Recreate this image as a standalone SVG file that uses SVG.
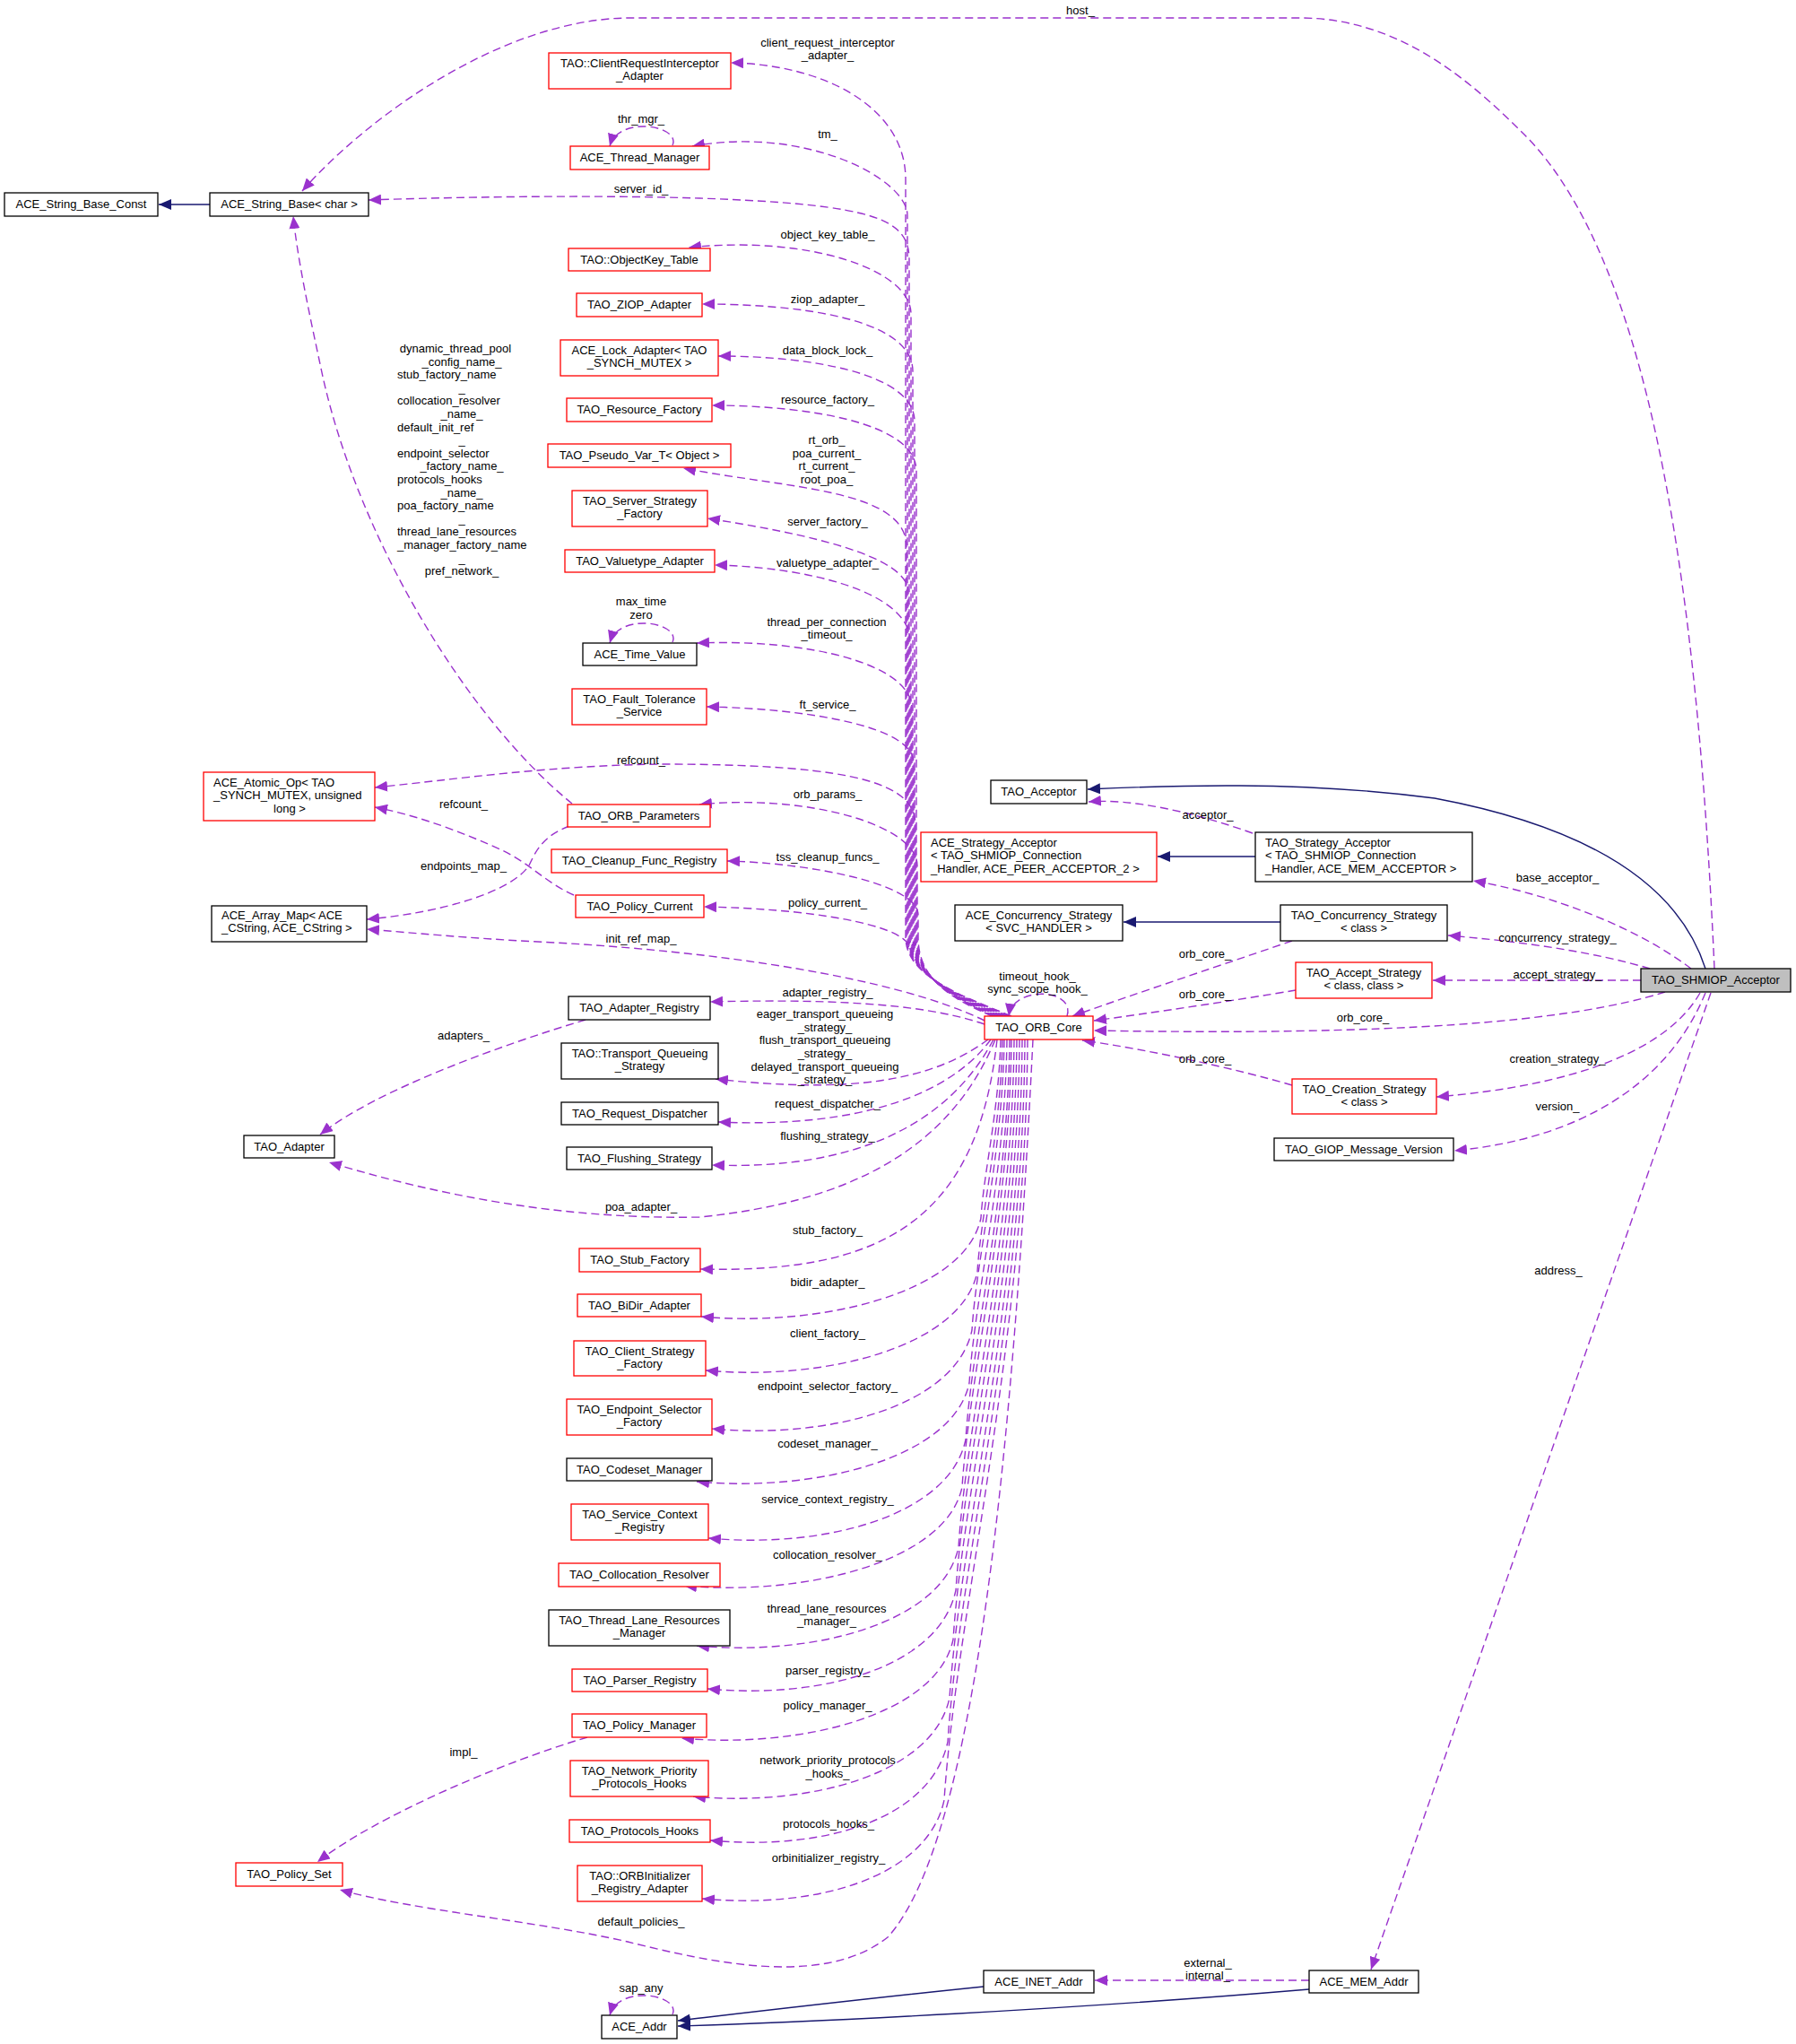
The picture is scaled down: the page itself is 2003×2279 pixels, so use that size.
<svg xmlns="http://www.w3.org/2000/svg" width="2003" height="2279" viewBox="0 0 2003 2279">
<style>
text{font-family:"Liberation Sans",Arial,Helvetica,sans-serif;font-size:13px;fill:#000}
.c{text-anchor:middle}
.s{text-anchor:start}
.nb rect{fill:#fff;stroke:#000;stroke-width:1.3}
.nr rect{fill:#fff;stroke:#f00;stroke-width:1.3}
.ng rect{fill:#bfbfbf;stroke:#000;stroke-width:1.3}
.u{fill:none;stroke:#9a32cd;stroke-width:1.4;stroke-dasharray:9,5;marker-end:url(#ap)}
.i{fill:none;stroke:#191970;stroke-width:1.4;marker-end:url(#an)}
</style>
<defs>
<marker id="ap" viewBox="0 0 14 12" refX="14" refY="6" markerWidth="14" markerHeight="12" markerUnits="userSpaceOnUse" orient="auto"><path d="M0,0L14,6L0,12z" fill="#9a32cd"/></marker>
<marker id="an" viewBox="0 0 14 12" refX="14" refY="6" markerWidth="14" markerHeight="12" markerUnits="userSpaceOnUse" orient="auto"><path d="M0,0L14,6L0,12z" fill="#191970"/></marker>
</defs>
<rect width="2003" height="2279" fill="#fff"/>
<g id="edges">
<path class="i" d="M234,228 L177,228"/>
<path class="u" d="M1912,1080 C1895,700 1850,300 1700,150 C1640,90 1560,20 1450,20 L700,20 C560,22 410,130 337,213"/>
<path class="u" d="M1128,1133 C1078,1112 1010,1090 1010,1045 L1010,200 C1010,120 920,72 815,70"/>
<path class="u" d="M1125,1133 C1075,1112 1012,1090 1012,1045 L1012,240 C1012,200 900,140 772,163"/>
<path class="u" d="M750,162 C760,140 690,128 680,163"/>
<path class="u" d="M1122,1133 C1072,1112 1014,1090 1014,1045 L1014,290 C1014,245 980,228 780,221 C650,217 500,220 411,223"/>
<path class="u" d="M1119,1133 C1069,1112 1016,1090 1016,1045 L1016,350 C1016,300 900,262 768,276"/>
<path class="u" d="M1116,1133 C1066,1112 1018,1090 1018,1045 L1018,414 C1018,354 887,339 783,339"/>
<path class="u" d="M1113,1133 C1063,1112 1020,1090 1020,1045 L1020,470 C1020,415 900,397 801,397"/>
<path class="u" d="M1110,1133 C1060,1112 1022,1090 1022,1045 L1022,525 C1022,470 895,452 794,452"/>
<path class="u" d="M1127,1133 C1077,1112 1011,1090 1011,1045 L1011,610 C1011,545 880,545 762,522"/>
<path class="u" d="M1124,1133 C1074,1112 1013,1090 1013,1045 L1013,660 C1013,620 900,595 789,578"/>
<path class="u" d="M1121,1133 C1071,1112 1015,1090 1015,1045 L1015,715 C1015,660 900,632 797,630"/>
<path class="u" d="M750,716 C760,694 690,682 680,717"/>
<path class="u" d="M1118,1133 C1068,1112 1017,1090 1017,1045 L1017,790 C1017,740 900,712 777,717"/>
<path class="u" d="M1115,1133 C1065,1112 1019,1090 1019,1045 L1019,850 C1019,810 900,790 788,788"/>
<path class="u" d="M1112,1133 C1062,1112 1021,1090 1021,1045 L1021,920 C1021,875 960,853 750,852 C620,852 500,870 418,878"/>
<path class="u" d="M1109,1133 C1059,1112 1023,1090 1023,1045 L1023,965 C1023,920 900,885 780,897"/>
<path class="u" d="M1107,1133 C1057,1112 1024,1090 1024,1045 L1024,1020 C1024,985 900,962 811,960"/>
<path class="u" d="M1106,1133 C1060,1110 1020,1080 1014,1055 C1005,1030 900,1013 785,1011"/>
<path class="u" d="M1098,1138 C1000,1090 800,1060 600,1050 C520,1046 460,1040 409,1036"/>
<path class="u" d="M1098,1142 C1040,1122 950,1113 792,1117"/>
<path class="u" d="M638,896 C520,800 400,600 360,420 C345,350 332,290 327,241"/>
<path class="u" d="M635,921 C605,932 597,950 590,965 C570,995 490,1018 409,1025"/>
<path class="u" d="M640,998 C610,985 590,962 560,948 C520,930 470,910 418,900"/>
<path class="u" d="M653,1137 C560,1165 420,1215 357,1265"/>
<path class="u" d="M1190,1133 C1200,1102 1130,1098 1125,1133"/>
<path class="u" d="M1102,1159 C1040,1205 950,1220 798,1203"/>
<path class="u" d="M1105,1159 C1060,1220 960,1258 801,1251"/>
<path class="u" d="M1108,1159 C1060,1250 960,1305 794,1299"/>
<path class="u" d="M1110,1159 C1060,1280 950,1340 780,1357 C620,1360 480,1330 367,1296"/>
<path class="u" d="M1112,1159 C1090,1364 980,1420 781,1415"/>
<path class="u" d="M1116,1159 C1114,1239 1097,1308 1094,1358 C1076,1443 912,1480 782,1468"/>
<path class="u" d="M1118,1159 C1116,1263 1094,1353 1090,1418 C1072,1503 917,1540 787,1528"/>
<path class="u" d="M1120,1159 C1118,1289 1089,1402 1084,1483 C1066,1568 924,1605 794,1593"/>
<path class="u" d="M1123,1159 C1121,1312 1087,1446 1081,1542 C1063,1627 907,1664 777,1652"/>
<path class="u" d="M1126,1159 C1124,1337 1084,1494 1077,1605 C1059,1690 920,1727 790,1715"/>
<path class="u" d="M1128,1159 C1126,1359 1081,1533 1073,1658 C1055,1743 893,1780 763,1768"/>
<path class="u" d="M1131,1159 C1129,1385 1078,1584 1069,1725 C1051,1810 907,1847 777,1835"/>
<path class="u" d="M1134,1159 C1132,1405 1076,1620 1066,1773 C1048,1858 919,1895 789,1883"/>
<path class="u" d="M1137,1159 C1135,1427 1074,1661 1063,1828 C1045,1913 890,1950 760,1938"/>
<path class="u" d="M1140,1159 C1138,1453 1071,1710 1059,1893 C1041,1978 903,2015 773,2003"/>
<path class="u" d="M1143,1159 C1141,1472 1070,1746 1057,1942 C1039,2027 922,2064 792,2052"/>
<path class="u" d="M1146,1159 C1144,1498 1067,1795 1053,2007 C1035,2092 913,2129 783,2117"/>
<path class="u" d="M1152,1159 C1130,1600 1090,2050 990,2160 C920,2215 800,2190 700,2165 C600,2142 460,2130 379,2107"/>
<path class="u" d="M655,1937 C560,1965 420,2025 354,2076"/>
<path class="u" d="M750,2246 C760,2224 690,2212 680,2247"/>
<path class="i" d="M1097,2215 C950,2230 850,2242 756,2253"/>
<path class="i" d="M1460,2218 C1200,2240 900,2255 756,2259"/>
<path class="u" d="M1460,2208 L1221,2208"/>
<path class="i" d="M1902,1080 C1870,980 1760,920 1600,890 C1450,870 1300,876 1213,880"/>
<path class="i" d="M1400,955 L1291,955"/>
<path class="i" d="M1428,1028 L1253,1028"/>
<path class="u" d="M1397,929 C1330,905 1260,890 1214,894"/>
<path class="u" d="M1886,1080 C1820,1030 1720,995 1643,982"/>
<path class="u" d="M1840,1080 C1780,1062 1700,1050 1615,1043"/>
<path class="u" d="M1830,1093 L1598,1093"/>
<path class="u" d="M1857,1106 C1750,1140 1550,1155 1220,1149"/>
<path class="u" d="M1441,1049 C1380,1070 1260,1110 1196,1133"/>
<path class="u" d="M1445,1104 C1380,1115 1280,1130 1220,1138"/>
<path class="u" d="M1441,1210 C1380,1192 1280,1170 1207,1160"/>
<path class="u" d="M1896,1107 C1860,1170 1760,1210 1602,1223"/>
<path class="u" d="M1902,1107 C1860,1210 1760,1270 1622,1283"/>
<path class="u" d="M1908,1107 L1529,2196"/>
</g>
<g id="edge-labels">
<text class="c" x="1205" y="16">host_</text>
<text class="c" x="923" y="52">client_request_interceptor</text>
<text class="c" x="923" y="66">_adapter_</text>
<text class="c" x="715" y="137">thr_mgr_</text>
<text class="c" x="923" y="154">tm_</text>
<text class="c" x="715" y="215">server_id_</text>
<text class="c" x="923" y="266">object_key_table_</text>
<text class="c" x="923" y="338">ziop_adapter_</text>
<text class="c" x="923" y="395">data_block_lock_</text>
<text class="c" x="923" y="450">resource_factory_</text>
<text class="c" x="922" y="495">rt_orb_</text>
<text class="c" x="922" y="510">poa_current_</text>
<text class="c" x="922" y="524">rt_current_</text>
<text class="c" x="922" y="539">root_poa_</text>
<text class="c" x="923" y="586">server_factory_</text>
<text class="c" x="923" y="632">valuetype_adapter_</text>
<text class="c" x="715" y="675">max_time</text>
<text class="c" x="715" y="690">zero</text>
<text class="c" x="922" y="698">thread_per_connection</text>
<text class="c" x="922" y="712">_timeout_</text>
<text class="c" x="923" y="790">ft_service_</text>
<text class="c" x="715" y="852">refcount_</text>
<text class="c" x="923" y="890">orb_params_</text>
<text class="c" x="923" y="960">tss_cleanup_funcs_</text>
<text class="c" x="923" y="1011">policy_current_</text>
<text class="c" x="715" y="1051">init_ref_map_</text>
<text class="c" x="923" y="1111">adapter_registry_</text>
<text class="c" x="920" y="1135">eager_transport_queueing</text>
<text class="c" x="920" y="1150">_strategy_</text>
<text class="c" x="920" y="1164">flush_transport_queueing</text>
<text class="c" x="920" y="1179">_strategy_</text>
<text class="c" x="920" y="1194">delayed_transport_queueing</text>
<text class="c" x="920" y="1208">_strategy_</text>
<text class="c" x="923" y="1235">request_dispatcher_</text>
<text class="c" x="923" y="1271">flushing_strategy_</text>
<text class="c" x="715" y="1350">poa_adapter_</text>
<text class="c" x="923" y="1376">stub_factory_</text>
<text class="c" x="923" y="1434">bidir_adapter_</text>
<text class="c" x="923" y="1491">client_factory_</text>
<text class="c" x="923" y="1550">endpoint_selector_factory_</text>
<text class="c" x="923" y="1614">codeset_manager_</text>
<text class="c" x="923" y="1676">service_context_registry_</text>
<text class="c" x="923" y="1738">collocation_resolver_</text>
<text class="c" x="922" y="1798">thread_lane_resources</text>
<text class="c" x="922" y="1812">_manager_</text>
<text class="c" x="923" y="1867">parser_registry_</text>
<text class="c" x="923" y="1906">policy_manager_</text>
<text class="c" x="923" y="1967">network_priority_protocols</text>
<text class="c" x="923" y="1982">_hooks_</text>
<text class="c" x="924" y="2038">protocols_hooks_</text>
<text class="c" x="924" y="2076">orbinitializer_registry_</text>
<text class="c" x="715" y="2147">default_policies_</text>
<text class="c" x="715" y="2221">sap_any</text>
<text class="c" x="1347" y="2193">external_</text>
<text class="c" x="1347" y="2207">internal_</text>
<text class="c" x="1738" y="1421">address_</text>
<text class="c" x="1347" y="913">acceptor_</text>
<text class="c" x="1737" y="983">base_acceptor_</text>
<text class="c" x="1737" y="1050">concurrency_strategy_</text>
<text class="c" x="1737" y="1091">accept_strategy_</text>
<text class="c" x="1737" y="1185">creation_strategy_</text>
<text class="c" x="1737" y="1238">version_</text>
<text class="c" x="1344" y="1068">orb_core_</text>
<text class="c" x="1344" y="1113">orb_core_</text>
<text class="c" x="1520" y="1139">orb_core_</text>
<text class="c" x="1344" y="1185">orb_core_</text>
<text class="c" x="1157" y="1093">timeout_hook_</text>
<text class="c" x="1157" y="1107">sync_scope_hook_</text>
<text class="c" x="517" y="1159">adapters_</text>
<text class="c" x="517" y="1958">impl_</text>
<text class="c" x="517" y="901">refcount_</text>
<text class="c" x="517" y="970">endpoints_map_</text>
<text class="c" x="508" y="393">dynamic_thread_pool</text>
<text class="c" x="515" y="407.6">_config_name_</text>
<text class="s" x="443" y="422.2">stub_factory_name</text>
<text class="c" x="515" y="436.8">_</text>
<text class="s" x="443" y="451.4">collocation_resolver</text>
<text class="c" x="515" y="466">_name_</text>
<text class="s" x="443" y="480.6">default_init_ref</text>
<text class="c" x="515" y="495.2">_</text>
<text class="s" x="443" y="509.8">endpoint_selector</text>
<text class="c" x="515" y="524.4">_factory_name_</text>
<text class="s" x="443" y="539">protocols_hooks</text>
<text class="c" x="515" y="553.6">_name_</text>
<text class="s" x="443" y="568.2">poa_factory_name</text>
<text class="c" x="515" y="582.8">_</text>
<text class="s" x="443" y="597.4">thread_lane_resources</text>
<text class="s" x="443" y="612">_manager_factory_name</text>
<text class="c" x="515" y="626.6">_</text>
<text class="c" x="515" y="641.2">pref_network_</text>
</g>
<g id="n_ace_string_base_const" class="nb"><rect x="5" y="215" width="171" height="26"/><text class="c" x="90.5" y="232">ACE_String_Base_Const</text></g>
<g id="n_ace_string_base" class="nb"><rect x="234" y="215" width="177" height="26"/><text class="c" x="322.5" y="232">ACE_String_Base&lt; char &gt;</text></g>
<g id="n_client_request_interceptor_adapter" class="nr"><rect x="612" y="59" width="203" height="40"/><text class="c" x="713.5" y="75">TAO::ClientRequestInterceptor</text><text class="c" x="713.5" y="89">_Adapter</text></g>
<g id="n_ace_thread_manager" class="nr"><rect x="636" y="163" width="155" height="26"/><text class="c" x="713.5" y="180">ACE_Thread_Manager</text></g>
<g id="n_objectkey_table" class="nr"><rect x="634" y="277" width="158" height="25"/><text class="c" x="713" y="294">TAO::ObjectKey_Table</text></g>
<g id="n_ziop_adapter" class="nr"><rect x="643" y="327" width="140" height="26"/><text class="c" x="713" y="344">TAO_ZIOP_Adapter</text></g>
<g id="n_lock_adapter" class="nr"><rect x="625" y="379" width="176" height="40"/><text class="c" x="713" y="395">ACE_Lock_Adapter&lt; TAO</text><text class="c" x="713" y="409">_SYNCH_MUTEX &gt;</text></g>
<g id="n_resource_factory" class="nr"><rect x="632" y="444" width="162" height="26"/><text class="c" x="713" y="461">TAO_Resource_Factory</text></g>
<g id="n_pseudo_var" class="nr"><rect x="611" y="495" width="204" height="26"/><text class="c" x="713" y="512">TAO_Pseudo_Var_T&lt; Object &gt;</text></g>
<g id="n_server_strategy_factory" class="nr"><rect x="638" y="547" width="151" height="40"/><text class="c" x="713.5" y="563">TAO_Server_Strategy</text><text class="c" x="713.5" y="577">_Factory</text></g>
<g id="n_valuetype_adapter" class="nr"><rect x="630" y="613" width="167" height="25"/><text class="c" x="713.5" y="630">TAO_Valuetype_Adapter</text></g>
<g id="n_ace_time_value" class="nb"><rect x="650" y="717" width="127" height="25"/><text class="c" x="713.5" y="734">ACE_Time_Value</text></g>
<g id="n_fault_tolerance" class="nr"><rect x="638" y="768" width="150" height="40"/><text class="c" x="713" y="784">TAO_Fault_Tolerance</text><text class="c" x="713" y="798">_Service</text></g>
<g id="n_orb_parameters" class="nr"><rect x="633" y="897" width="159" height="25"/><text class="c" x="712.5" y="914">TAO_ORB_Parameters</text></g>
<g id="n_cleanup_func_registry" class="nr"><rect x="615" y="947" width="196" height="26"/><text class="c" x="713" y="964">TAO_Cleanup_Func_Registry</text></g>
<g id="n_policy_current" class="nr"><rect x="642" y="998" width="143" height="25"/><text class="c" x="713.5" y="1015">TAO_Policy_Current</text></g>
<g id="n_adapter_registry" class="nb"><rect x="634" y="1111" width="158" height="26"/><text class="c" x="713" y="1128">TAO_Adapter_Registry</text></g>
<g id="n_transport_queueing" class="nb"><rect x="626" y="1163" width="175" height="40"/><text class="c" x="713.5" y="1179">TAO::Transport_Queueing</text><text class="c" x="713.5" y="1193">_Strategy</text></g>
<g id="n_request_dispatcher" class="nb"><rect x="626" y="1229" width="175" height="25"/><text class="c" x="713.5" y="1246">TAO_Request_Dispatcher</text></g>
<g id="n_flushing_strategy" class="nb"><rect x="632" y="1279" width="162" height="25"/><text class="c" x="713" y="1296">TAO_Flushing_Strategy</text></g>
<g id="n_stub_factory" class="nr"><rect x="646" y="1392" width="135" height="26"/><text class="c" x="713.5" y="1409">TAO_Stub_Factory</text></g>
<g id="n_bidir_adapter" class="nr"><rect x="644" y="1443" width="138" height="25"/><text class="c" x="713" y="1460">TAO_BiDir_Adapter</text></g>
<g id="n_client_strategy_factory" class="nr"><rect x="640" y="1495" width="147" height="39"/><text class="c" x="713.5" y="1511">TAO_Client_Strategy</text><text class="c" x="713.5" y="1525">_Factory</text></g>
<g id="n_endpoint_selector_factory" class="nr"><rect x="632" y="1560" width="162" height="40"/><text class="c" x="713" y="1576">TAO_Endpoint_Selector</text><text class="c" x="713" y="1590">_Factory</text></g>
<g id="n_codeset_manager" class="nb"><rect x="632" y="1626" width="162" height="25"/><text class="c" x="713" y="1643">TAO_Codeset_Manager</text></g>
<g id="n_service_context_registry" class="nr"><rect x="637" y="1677" width="153" height="40"/><text class="c" x="713.5" y="1693">TAO_Service_Context</text><text class="c" x="713.5" y="1707">_Registry</text></g>
<g id="n_collocation_resolver" class="nr"><rect x="623" y="1743" width="180" height="26"/><text class="c" x="713" y="1760">TAO_Collocation_Resolver</text></g>
<g id="n_thread_lane_resources_manager" class="nb"><rect x="612" y="1795" width="202" height="40"/><text class="c" x="713" y="1811">TAO_Thread_Lane_Resources</text><text class="c" x="713" y="1825">_Manager</text></g>
<g id="n_parser_registry" class="nr"><rect x="638" y="1861" width="151" height="25"/><text class="c" x="713.5" y="1878">TAO_Parser_Registry</text></g>
<g id="n_policy_manager" class="nr"><rect x="638" y="1911" width="150" height="26"/><text class="c" x="713" y="1928">TAO_Policy_Manager</text></g>
<g id="n_network_priority_protocols_hooks" class="nr"><rect x="636" y="1963" width="154" height="40"/><text class="c" x="713" y="1979">TAO_Network_Priority</text><text class="c" x="713" y="1993">_Protocols_Hooks</text></g>
<g id="n_protocols_hooks" class="nr"><rect x="635" y="2029" width="157" height="25"/><text class="c" x="713.5" y="2046">TAO_Protocols_Hooks</text></g>
<g id="n_orbinitializer_registry_adapter" class="nr"><rect x="644" y="2080" width="139" height="40"/><text class="c" x="713.5" y="2096">TAO::ORBInitializer</text><text class="c" x="713.5" y="2110">_Registry_Adapter</text></g>
<g id="n_ace_addr" class="nb"><rect x="671" y="2247" width="84" height="26"/><text class="c" x="713" y="2264">ACE_Addr</text></g>
<g id="n_ace_inet_addr" class="nb"><rect x="1097" y="2197" width="123" height="25"/><text class="c" x="1158.5" y="2214">ACE_INET_Addr</text></g>
<g id="n_ace_mem_addr" class="nb"><rect x="1460" y="2197" width="122" height="25"/><text class="c" x="1521" y="2214">ACE_MEM_Addr</text></g>
<g id="n_ace_atomic_op" class="nr"><rect x="227" y="861" width="191" height="54"/><text class="s" x="238" y="877">ACE_Atomic_Op&lt; TAO</text><text class="s" x="238" y="891">_SYNCH_MUTEX, unsigned</text><text class="c" x="323" y="906">long &gt;</text></g>
<g id="n_ace_array_map" class="nb"><rect x="236" y="1010" width="173" height="40"/><text class="s" x="247" y="1025">ACE_Array_Map&lt; ACE</text><text class="s" x="247" y="1039">_CString, ACE_CString &gt;</text></g>
<g id="n_tao_adapter" class="nb"><rect x="272" y="1266" width="101" height="25"/><text class="c" x="322.5" y="1283">TAO_Adapter</text></g>
<g id="n_policy_set" class="nr"><rect x="263" y="2077" width="119" height="26"/><text class="c" x="322.5" y="2094">TAO_Policy_Set</text></g>
<g id="n_orb_core" class="nr"><rect x="1098" y="1133" width="121" height="26"/><text class="c" x="1158.5" y="1150">TAO_ORB_Core</text></g>
<g id="n_tao_acceptor" class="nb"><rect x="1105" y="870" width="107" height="26"/><text class="c" x="1158.5" y="887">TAO_Acceptor</text></g>
<g id="n_ace_strategy_acceptor" class="nr"><rect x="1027" y="928" width="263" height="55"/><text class="s" x="1038" y="944">ACE_Strategy_Acceptor</text><text class="s" x="1038" y="958">&lt; TAO_SHMIOP_Connection</text><text class="s" x="1038" y="973">_Handler, ACE_PEER_ACCEPTOR_2 &gt;</text></g>
<g id="n_tao_strategy_acceptor" class="nb"><rect x="1400" y="928" width="242" height="55"/><text class="s" x="1411" y="944">TAO_Strategy_Acceptor</text><text class="s" x="1411" y="958">&lt; TAO_SHMIOP_Connection</text><text class="s" x="1411" y="973">_Handler, ACE_MEM_ACCEPTOR &gt;</text></g>
<g id="n_ace_concurrency_strategy" class="nb"><rect x="1065" y="1009" width="187" height="40"/><text class="c" x="1158.5" y="1025">ACE_Concurrency_Strategy</text><text class="c" x="1158.5" y="1039">&lt; SVC_HANDLER &gt;</text></g>
<g id="n_tao_concurrency_strategy" class="nb"><rect x="1428" y="1009" width="186" height="40"/><text class="c" x="1521" y="1025">TAO_Concurrency_Strategy</text><text class="c" x="1521" y="1039">&lt; class &gt;</text></g>
<g id="n_tao_accept_strategy" class="nr"><rect x="1445" y="1073" width="152" height="40"/><text class="c" x="1521" y="1089">TAO_Accept_Strategy</text><text class="c" x="1521" y="1103">&lt; class, class &gt;</text></g>
<g id="n_tao_shmiop_acceptor" class="ng"><rect x="1830" y="1080" width="167" height="26"/><text class="c" x="1913.5" y="1097">TAO_SHMIOP_Acceptor</text></g>
<g id="n_tao_creation_strategy" class="nr"><rect x="1441" y="1203" width="161" height="39"/><text class="c" x="1521.5" y="1219">TAO_Creation_Strategy</text><text class="c" x="1521.5" y="1233">&lt; class &gt;</text></g>
<g id="n_giop_message_version" class="nb"><rect x="1421" y="1269" width="200" height="25"/><text class="c" x="1521" y="1286">TAO_GIOP_Message_Version</text></g>
</svg>
